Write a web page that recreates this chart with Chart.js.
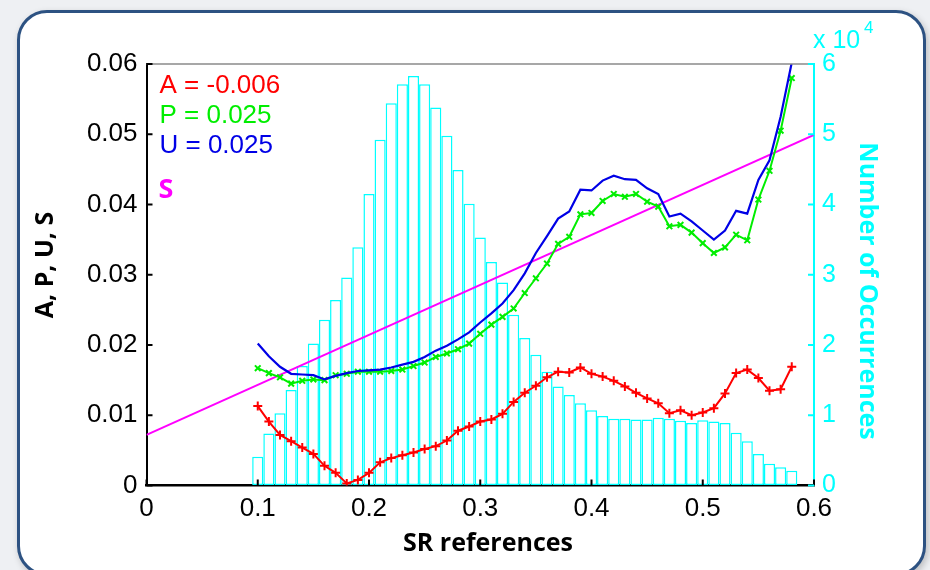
<!DOCTYPE html>
<html>
<head>
<meta charset="utf-8">
<script src="https://cdn.jsdelivr.net/npm/chart.js@4"></script>
<style>
  html, body { margin: 0; padding: 0; }
  body { width: 930px; height: 570px; background: #eef0f3; position: relative; overflow: hidden; }
  #panel {
    position: absolute; left: 17px; top: 10px; width: 903px; height: 560px;
    border: 3px solid #2d5282; border-radius: 30px; background: #ffffff;
    box-shadow: 2px 3px 7px rgba(0,0,0,0.22);
  }
  #chart { position: absolute; left: 0; top: 0; }
</style>
</head>
<body>
<div id="panel"></div>
<canvas id="chart" width="930" height="570"></canvas>
<script>
// SR reference bins (bin centres)
const srBins = [0.10, 0.11, 0.12, 0.13, 0.14, 0.15, 0.16, 0.17, 0.18, 0.19,
                0.20, 0.21, 0.22, 0.23, 0.24, 0.25, 0.26, 0.27, 0.28, 0.29,
                0.30, 0.31, 0.32, 0.33, 0.34, 0.35, 0.36, 0.37, 0.38, 0.39,
                0.40, 0.41, 0.42, 0.43, 0.44, 0.45, 0.46, 0.47, 0.48, 0.49,
                0.50, 0.51, 0.52, 0.53, 0.54, 0.55, 0.56, 0.57, 0.58];

// Number of occurrences in each bin
const occurrences = [4100, 7400, 10300, 13600, 17000, 20200, 23600, 26400, 29600, 33900,
                     41500, 49200, 54400, 57100, 58300, 57100, 53800, 49800, 44900, 40100,
                     35300, 31800, 28900, 24300, 21000, 18600, 16200, 14100, 12900, 11700,
                     10700, 9900, 9500, 9500, 9400, 9400, 9650, 9500, 9200, 8900,
                     9300, 9100, 8900, 7500, 6300, 4500, 3100, 2600, 2100];

// A, P, U per bin
const seriesA = [0.0113, 0.0091, 0.0072, 0.0063, 0.0054, 0.0045, 0.0028, 0.0018, 0.0003, 0.0008,
                 0.0018, 0.0033, 0.0039, 0.0043, 0.0047, 0.0052, 0.0056, 0.0064, 0.0078, 0.0084,
                 0.0091, 0.0094, 0.0102, 0.0119, 0.0132, 0.0142, 0.0154, 0.0162, 0.0161, 0.0168,
                 0.0159, 0.0155, 0.0149, 0.0141, 0.0132, 0.0124, 0.0117, 0.0103, 0.0107, 0.0100,
                 0.0104, 0.0110, 0.0131, 0.0160, 0.0165, 0.0153, 0.0135, 0.0137, 0.0169];

const seriesP = [0.0167, 0.0160, 0.0154, 0.0145, 0.0149, 0.0151, 0.0150, 0.0157, 0.0159, 0.0162,
                 0.0162, 0.0162, 0.0163, 0.0165, 0.0170, 0.0175, 0.0183, 0.0188, 0.0194, 0.0202,
                 0.0216, 0.0229, 0.0240, 0.0252, 0.0274, 0.0295, 0.0316, 0.0344, 0.0354, 0.0386,
                 0.0388, 0.0405, 0.0415, 0.0411, 0.0415, 0.0404, 0.0397, 0.0369, 0.0371, 0.0360,
                 0.0345, 0.0331, 0.0339, 0.0357, 0.0349, 0.0407, 0.0448, 0.0505, 0.0580];

const seriesU = [0.0202, 0.0184, 0.0169, 0.0159, 0.0158, 0.0157, 0.0151, 0.0156, 0.0160, 0.0163,
                 0.0164, 0.0165, 0.0168, 0.0172, 0.0176, 0.0183, 0.0192, 0.0199, 0.0208, 0.0218,
                 0.0232, 0.0245, 0.0259, 0.0278, 0.0302, 0.0331, 0.0355, 0.0380, 0.0390, 0.0421,
                 0.0420, 0.0434, 0.0441, 0.0436, 0.0435, 0.0423, 0.0415, 0.0383, 0.0387, 0.0376,
                 0.0363, 0.0350, 0.0363, 0.0391, 0.0387, 0.0435, 0.0463, 0.0525, 0.0602];

// Straight S line: end points
const seriesSx = [0, 0.6];
const seriesS  = [0.0072, 0.0499];

// Axis ticks
const xTicks  = [0, 0.1, 0.2, 0.3, 0.4, 0.5, 0.6];
const yTicks  = [0, 0.01, 0.02, 0.03, 0.04, 0.05, 0.06];
const y2Ticks = [0, 10000, 20000, 30000, 40000, 50000, 60000];

// Slope annotations
const statLabels = [
  { text: 'A = -0.006', color: '#ff0000' },
  { text: 'P = 0.025',  color: '#00ee00' },
  { text: 'U = 0.025',  color: '#0000e6' }
];

const CYAN = '#00ffff';
const pair = (xs, ys) => xs.map((x, i) => ({ x: x, y: ys[i] }));

// inward tick marks, plot frame top edge, axis titles, annotations
const decorations = {
  id: 'decorations',
  afterDraw(chart) {
    const ctx = chart.ctx;
    const a = chart.chartArea;
    const sx = chart.scales.x, sy = chart.scales.y, sy2 = chart.scales.y2;
    ctx.save();
    // top edge of the box
    ctx.strokeStyle = '#8a8a8a';
    ctx.lineWidth = 1.5;
    ctx.beginPath(); ctx.moveTo(a.left, a.top); ctx.lineTo(a.right, a.top); ctx.stroke();

    // ticks
    ctx.lineWidth = 2;
    ctx.strokeStyle = '#000';
    ctx.beginPath();
    xTicks.forEach(v => { const p = sx.getPixelForValue(v); ctx.moveTo(p, a.bottom); ctx.lineTo(p, a.bottom - 6); });
    yTicks.forEach(v => { const p = sy.getPixelForValue(v); ctx.moveTo(a.left, p); ctx.lineTo(a.left + 6, p); });
    ctx.stroke();
    ctx.strokeStyle = CYAN;
    ctx.beginPath();
    y2Ticks.forEach(v => { const p = sy2.getPixelForValue(v); ctx.moveTo(a.right, p); ctx.lineTo(a.right - 6, p); });
    ctx.stroke();

    // exponent label of the right axis
    ctx.fillStyle = CYAN;
    ctx.textBaseline = 'alphabetic';
    ctx.textAlign = 'left';
    ctx.font = '25px "Liberation Sans"';
    ctx.fillText('x 10', a.right - 1, 48);
    ctx.font = '17px "Liberation Sans"';
    ctx.fillText('4', a.right + 50, 33);

    // axis titles
    ctx.font = 'bold 25px "Open Sans"';
    ctx.textAlign = 'center';
    ctx.textBaseline = 'middle';
    ctx.fillStyle = '#000';
    ctx.fillText('SR references', 488, 544);
    ctx.save();
    ctx.translate(46, 265);
    ctx.rotate(-Math.PI / 2);
    ctx.fillText('A, P, U, S', 0, 0);
    ctx.restore();
    ctx.fillStyle = CYAN;
    ctx.save();
    ctx.translate(867, 291);
    ctx.rotate(Math.PI / 2);
    ctx.fillText('Number of Occurrences', 0, 0);
    ctx.restore();

    // slope annotations
    ctx.textAlign = 'left';
    ctx.textBaseline = 'middle';
    ctx.font = '26px "Liberation Sans"';
    statLabels.forEach((s, i) => {
      ctx.fillStyle = s.color;
      ctx.fillText(s.text, a.left + 13, 86 + i * 30);
    });
    ctx.fillStyle = '#ff00ff';
    ctx.font = 'bold 27px "Open Sans"';
    ctx.fillText('S', a.left + 12, 190);
    ctx.restore();
  }
};

Chart.defaults.font.family = '"Liberation Sans", Arial, sans-serif';

new Chart(document.getElementById('chart'), {
  type: 'line',
  data: {
    datasets: [
      {
        type: 'bar',
        label: 'Occurrences',
        data: pair(srBins, occurrences),
        xAxisID: 'x', yAxisID: 'y2',
        backgroundColor: '#ffffff',
        borderColor: CYAN,
        borderWidth: 1.5,
        borderSkipped: false,
        inflateAmount: 0,
        barPercentage: 1.0,
        categoryPercentage: 1.0,
        order: 10
      },
      {
        label: 'S',
        data: pair(seriesSx, seriesS),
        yAxisID: 'y',
        borderColor: '#ff00ff',
        borderWidth: 2,
        pointRadius: 0,
        order: 4
      },
      {
        label: 'A',
        data: pair(srBins, seriesA),
        yAxisID: 'y',
        borderColor: '#ff0000',
        backgroundColor: '#ff0000',
        borderWidth: 2,
        pointStyle: 'cross',
        pointRadius: 4.5,
        pointBorderWidth: 2,
        order: 3
      },
      {
        label: 'P',
        data: pair(srBins, seriesP),
        yAxisID: 'y',
        borderColor: '#00ee00',
        backgroundColor: '#00ee00',
        borderWidth: 2,
        pointStyle: 'crossRot',
        pointRadius: 4,
        pointBorderWidth: 2,
        order: 2
      },
      {
        label: 'U',
        data: pair(srBins, seriesU),
        yAxisID: 'y',
        borderColor: '#0000e6',
        borderWidth: 2.2,
        pointRadius: 0,
        order: 1
      }
    ]
  },
  options: {
    responsive: false,
    animation: false,
    devicePixelRatio: 1,
    events: [],
    layout: { padding: { left: 31, top: 64, right: 0, bottom: 0 } },
    plugins: { legend: { display: false }, tooltip: { enabled: false } },
    scales: {
      x: {
        type: 'linear',
        min: 0, max: 0.6,
        offset: false,
        afterBuildTicks: s => { s.ticks = xTicks.map(v => ({ value: v })); },
        afterFit: s => { s.height = 84.5; },
        ticks: {
          color: '#000',
          font: { size: 26 },
          padding: 8,
          callback: v => String(Math.round(v * 10) / 10)
        },
        grid: { display: true, drawOnChartArea: false, drawTicks: false, offset: false },
        border: { display: true, color: '#000', width: 2.5 }
      },
      y: {
        position: 'left',
        min: 0, max: 0.06,
        afterBuildTicks: s => { s.ticks = yTicks.map(v => ({ value: v })); },
        afterFit: s => { s.width = 115.5; },
        ticks: {
          color: '#000',
          font: { size: 26 },
          padding: 9,
          callback: v => String(Math.round(v * 100) / 100)
        },
        grid: { display: true, drawOnChartArea: false, drawTicks: false },
        border: { display: true, color: '#000', width: 2 }
      },
      y2: {
        position: 'right',
        min: 0, max: 60000,
        afterBuildTicks: s => { s.ticks = y2Ticks.map(v => ({ value: v })); },
        afterFit: s => { s.width = 116; },
        ticks: {
          color: CYAN,
          font: { size: 25 },
          padding: 8,
          callback: v => String(Math.round(v / 10000))
        },
        grid: { display: true, drawOnChartArea: false, drawTicks: false },
        border: { display: true, color: CYAN, width: 2 }
      }
    }
  },
  plugins: [decorations]
});
</script>
</body>
</html>
